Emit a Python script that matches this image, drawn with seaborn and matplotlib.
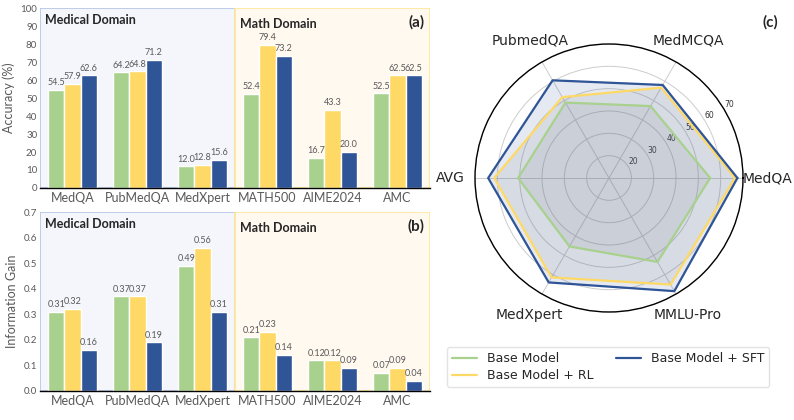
import numpy as np
import pandas as pd
import matplotlib
matplotlib.use('Agg')
import matplotlib.pyplot as plt
import seaborn as sns
from matplotlib.patches import Rectangle

# data
datasets = ['MedQA', 'PubMedQA', 'MedXpert', 'MATH500', 'AIME2024', 'AMC']
models = ['Base Model', 'Base Model + RL', 'Base Model + SFT']
acc_base = [54.5, 64.2, 12.0, 52.4, 16.7, 52.5]
acc_rl = [57.9, 64.8, 12.8, 79.4, 43.3, 62.5]
acc_sft = [62.6, 71.2, 15.6, 73.2, 20.0, 62.5]
ig_base = [0.31, 0.37, 0.49, 0.21, 0.12, 0.07]
ig_rl = [0.32, 0.37, 0.56, 0.23, 0.12, 0.09]
ig_sft = [0.16, 0.19, 0.31, 0.14, 0.09, 0.04]

radar_labels = ['MedQA', 'MedMCQA', 'PubmedQA', 'AVG', 'MedXpert', 'MMLU-Pro']
radar_base = [55.3, 47.2, 49.0, 50.7, 45.4, 53.4]
radar_rl = [66.4, 56.7, 51.8, 61.4, 61.4, 65.1]
radar_sft = [67.5, 58.1, 60.5, 64.1, 64.0, 68.5]

colors = ['#a9d18e', '#ffd966', '#2f5597']
gray = '#595959'

sns.set_style('white')
plt.rcParams['font.family'] = ['Lato', 'DejaVu Sans']

fig = plt.figure(figsize=(7.94, 4.2), dpi=100)


def bar_panel(ax, vals, ymax, step, fmt, ylabel, tag):
    df = pd.DataFrame({
        'dataset': datasets * 3,
        'model': sum([[m] * 6 for m in models], []),
        'value': vals[0] + vals[1] + vals[2],
    })
    # domain boxes
    ax.add_patch(Rectangle((-0.5, 0), 3, ymax, facecolor='#f4f6fb',
                           edgecolor='#b4c7e7', lw=1.2, zorder=0))
    ax.add_patch(Rectangle((2.5, 0), 3, ymax, facecolor='#fff9f0',
                           edgecolor='#ffe699', lw=1.2, zorder=0))
    sns.barplot(data=df, x='dataset', y='value', hue='model', palette=colors,
                saturation=1, width=0.75, gap=0, ax=ax, legend=False, zorder=2)
    for c in ax.containers:
        ax.bar_label(c, fmt=fmt, fontsize=6.5, color=gray, padding=2)
    ax.set_xlim(-0.5, 5.5)
    ax.set_ylim(0, ymax)
    ax.set_yticks(np.arange(0, ymax + step / 2, step))
    ax.set_xlabel('')
    ax.set_ylabel(ylabel, fontsize=9, color=gray)
    ax.tick_params(axis='y', labelsize=7, colors=gray, length=0, pad=2)
    ax.tick_params(axis='x', labelsize=9, colors=gray, length=0, pad=3)
    for s in ['left', 'right', 'top']:
        ax.spines[s].set_visible(False)
    ax.spines['bottom'].set_color('black')
    ax.spines['bottom'].set_linewidth(1.0)
    ax.text(-0.42, ymax * 0.965, 'Medical Domain', fontsize=9, weight='bold',
            va='top', ha='left')
    ax.text(2.58, ymax * 0.945, 'Math Domain', fontsize=9, weight='bold',
            va='top', ha='left')
    ax.text(5.42, ymax * 0.96, tag, fontsize=11, weight='bold',
            va='top', ha='right')


ax_a = fig.add_axes([40 / 794, 1 - 188 / 420, 390 / 794, 180 / 420])
bar_panel(ax_a, [acc_base, acc_rl, acc_sft], 100, 10, '%.1f', 'Accuracy (%)', '(a)')

ax_b = fig.add_axes([40 / 794, 1 - 391 / 420, 390 / 794, 179 / 420])
bar_panel(ax_b, [ig_base, ig_rl, ig_sft], 0.7, 0.1, '%.2f', 'Information Gain', '(b)')
ax_b.yaxis.set_major_formatter(matplotlib.ticker.FormatStrFormatter('%.1f'))

# radar
ax_c = fig.add_axes([475 / 794, 1 - 312 / 420, 268 / 794, 268 / 420], projection='polar')
angles = np.linspace(0, 2 * np.pi, len(radar_labels), endpoint=False)
ang = np.append(angles, angles[0])
for vals, col, name in [(radar_base, colors[0], models[0]),
                        (radar_rl, colors[1], models[1]),
                        (radar_sft, colors[2], models[2])]:
    v = np.append(vals, vals[0])
    ax_c.plot(ang, v, color=col, lw=1.6, label=name, zorder=3)
    fill = '#2f5597' if col == colors[2] else '#808080'
    ax_c.fill(ang, v, color=fill, alpha=0.12, zorder=2)
ax_c.set_ylim(10, 70)
ax_c.set_yticks([20, 30, 40, 50, 60, 70])
ax_c.set_yticklabels(['20', '30', '40', '50', '60', '70'], fontsize=5.5,
                     family='DejaVu Sans', color='#333333')
ax_c.set_rlabel_position(31)
ax_c.set_xticks(angles)
ax_c.set_xticklabels(radar_labels, fontsize=10, family='DejaVu Sans')
ax_c.tick_params(axis='x', pad=7)
ax_c.grid(color='#cccccc', lw=0.7)
ax_c.spines['polar'].set_color('black')
ax_c.spines['polar'].set_linewidth(1.0)
ax_c.set_facecolor('white')
fig.text(770 / 794, 1 - 22 / 420, '(c)', fontsize=11, weight='bold', ha='center', va='center')

handles, labels = ax_c.get_legend_handles_labels()
fig.legend(handles, labels, ncol=2, loc='center', bbox_to_anchor=(608 / 794, 1 - 367 / 420),
           prop={'family': 'DejaVu Sans', 'size': 9}, frameon=True, handlelength=2.0,
           columnspacing=1.8, labelspacing=0.3, borderpad=0.4,
           edgecolor='#dddddd', fancybox=True)

fig.savefig('out.png', dpi=100)
